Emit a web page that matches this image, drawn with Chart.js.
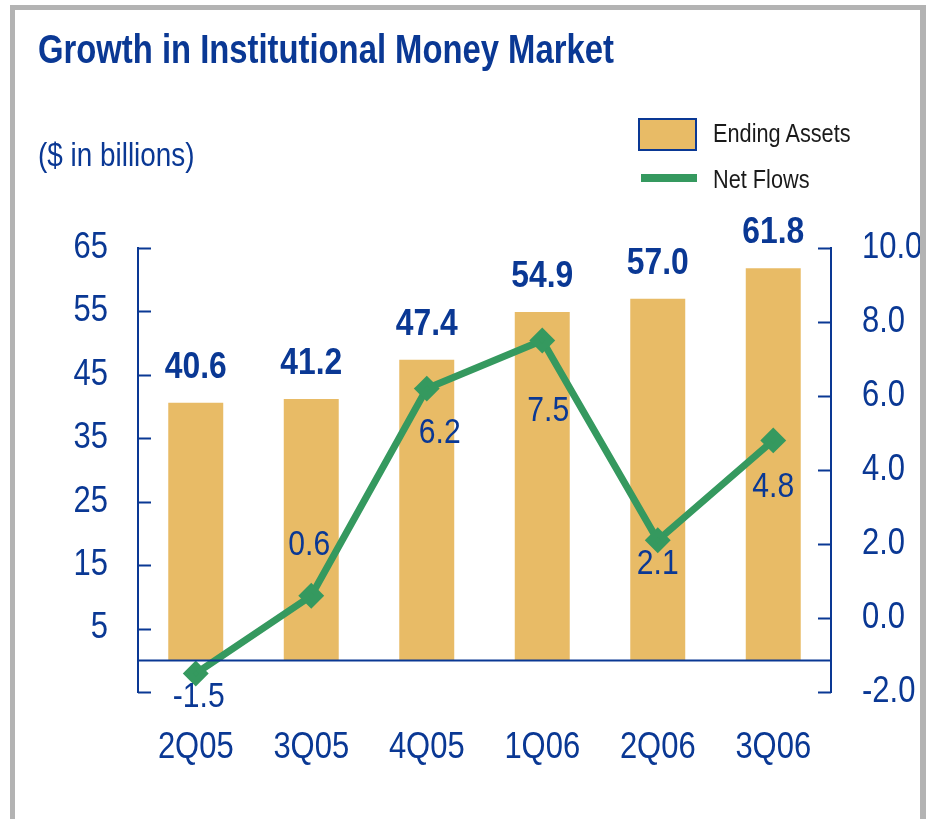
<!DOCTYPE html>
<html>
<head>
<meta charset="utf-8">
<script src="https://cdn.jsdelivr.net/npm/chart.js@4/dist/chart.umd.min.js"></script>
<style>
  html, body { margin: 0; padding: 0; background: #fff; }
  body { width: 930px; height: 819px; position: relative; overflow: hidden;
         font-family: "Liberation Sans", Arial, sans-serif; }
  #chartCanvas { position: absolute; left: 0; top: 0; }
  .frame { position: absolute; background: #b3b3b3; }
  .txt { position: absolute; white-space: nowrap; line-height: 1; transform-origin: 0 0; }
  #title { left: 38px; top: 29px; font-size: 40px; font-weight: bold; color: #0a3894; transform: scaleX(0.82); }
  #subtitle { left: 38px; top: 138px; font-size: 33px; color: #0a3894; transform: scaleX(0.845); }
  .legend-label { font-size: 26px; color: #1a1a1a; transform: scaleX(0.835); }
  #swatchBar { position: absolute; left: 638px; top: 118px; width: 55px; height: 29px;
               background: #e8bb66; border: 2px solid #0a3894; }
  #swatchLine { position: absolute; left: 641px; top: 174px; width: 56px; height: 8px; background: #35995f; }
</style>
</head>
<body>
<canvas id="chartCanvas" width="920" height="819"></canvas>
<div class="frame" style="left:10px; top:5px; width:916px; height:5px;"></div>
<div class="frame" style="left:10px; top:5px; width:5px; height:814px;"></div>
<div class="frame" style="left:920px; top:5px; width:6px; height:814px;"></div>
<div id="title" class="txt">Growth in Institutional Money Market</div>
<div id="subtitle" class="txt">($ in billions)</div>
<div id="swatchBar"></div>
<div class="txt legend-label" style="left:713px; top:120px;">Ending Assets</div>
<div id="swatchLine"></div>
<div class="txt legend-label" style="left:713px; top:166px;">Net Flows</div>
<script>
// Chart data
const quarters = ['2Q05', '3Q05', '4Q05', '1Q06', '2Q06', '3Q06'];
const endingAssets = [40.6, 41.2, 47.4, 54.9, 57.0, 61.8];
const netFlows = [-1.5, 0.6, 6.2, 7.5, 2.1, 4.8];
const assetTicks = [-5, 5, 15, 25, 35, 45, 55, 65];
const flowTicks = [-2, 0, 2, 4, 6, 8, 10];

const BLUE = '#0a3894';
const GOLD = '#e8bb66';
const GREEN = '#35995f';
const FONT = '"Liberation Sans", Arial, sans-serif';
const NARROW = 0.86; // squeeze text to look like a narrow face

// where each net flow label sits relative to its point
const flowLabelShift = [[3, 24], [-2, -50], [13, 45], [6, 71], [0, 24], [0, 47]];

function narrowText(ctx, text, x, y) {
    ctx.save();
    ctx.translate(x, y);
    ctx.scale(NARROW, 1);
    ctx.fillText(text, 0, 0);
    ctx.restore();
}

// inward tick marks, zero line, tick and value labels
const extras = {
    id: 'extras',
    beforeDatasetsDraw(chart) {
        const ctx = chart.ctx;
        const area = chart.chartArea;
        const yL = chart.scales.y, yR = chart.scales.y1;
        ctx.save();
        ctx.strokeStyle = BLUE;
        ctx.lineWidth = 2;
        ctx.beginPath();
        yL.ticks.forEach(t => {
            const py = Math.round(yL.getPixelForValue(t.value)) + 0.5;
            ctx.moveTo(area.left, py); ctx.lineTo(area.left + 13, py);
        });
        yR.ticks.forEach(t => {
            const py = Math.round(yR.getPixelForValue(t.value)) + 0.5;
            ctx.moveTo(area.right, py); ctx.lineTo(area.right - 13, py);
        });
        ctx.stroke();
        ctx.restore();
    },
    afterDatasetsDraw(chart) {
        const ctx = chart.ctx;
        const area = chart.chartArea;
        const xS = chart.scales.x, yL = chart.scales.y, yR = chart.scales.y1;
        ctx.save();
        // zero line over the bar bottoms
        const zy = Math.round(yL.getPixelForValue(0)) + 0.5;
        ctx.strokeStyle = BLUE;
        ctx.lineWidth = 2;
        ctx.beginPath();
        ctx.moveTo(area.left, zy); ctx.lineTo(area.right, zy);
        ctx.stroke();

        ctx.fillStyle = BLUE;

        // axis labels
        ctx.font = '36px ' + FONT;
        ctx.textBaseline = 'middle';
        ctx.textAlign = 'right';
        yL.ticks.forEach(t => {
            if (t.value < 0) return;
            narrowText(ctx, String(t.value), area.left - 30, yL.getPixelForValue(t.value));
        });
        ctx.textAlign = 'left';
        yR.ticks.forEach(t => {
            narrowText(ctx, t.value.toFixed(1), area.right + 31, yR.getPixelForValue(t.value));
        });
        ctx.textAlign = 'center';
        quarters.forEach((q, i) => {
            narrowText(ctx, q, xS.getPixelForValue(i), area.bottom + 56);
        });

        // bar values
        ctx.textBaseline = 'alphabetic';
        ctx.font = 'bold 37px ' + FONT;
        chart.getDatasetMeta(0).data.forEach((bar, i) => {
            narrowText(ctx, endingAssets[i].toFixed(1), bar.x, bar.y - 25);
        });
        // net flow values
        ctx.font = '35px ' + FONT;
        ctx.textBaseline = 'middle';
        chart.getDatasetMeta(1).data.forEach((pt, i) => {
            const s = flowLabelShift[i];
            narrowText(ctx, netFlows[i].toFixed(1), pt.x + s[0], pt.y + s[1]);
        });
        ctx.restore();
    }
};

const ctx = document.getElementById('chartCanvas').getContext('2d');
new Chart(ctx, {
    data: {
        labels: quarters,
        datasets: [{
            type: 'bar',
            label: 'Ending Assets',
            data: endingAssets,
            backgroundColor: GOLD,
            yAxisID: 'y',
            barPercentage: 0.476,
            categoryPercentage: 1,
            order: 2
        }, {
            type: 'line',
            label: 'Net Flows',
            data: netFlows,
            borderColor: GREEN,
            backgroundColor: GREEN,
            borderWidth: 7,
            pointStyle: 'rectRot',
            pointRadius: 8,
            tension: 0,
            yAxisID: 'y1',
            order: 1
        }]
    },
    options: {
        responsive: false,
        animation: false,
        devicePixelRatio: 1,
        layout: { padding: { top: 248, left: 0, right: 0, bottom: 0 } },
        plugins: { legend: { display: false }, tooltip: { enabled: false } },
        scales: {
            x: {
                grid: { display: false, drawTicks: false },
                border: { display: false },
                ticks: { display: false },
                afterFit(scale) { scale.height = 127; }
            },
            y: {
                position: 'left',
                min: -5, max: 65,
                afterBuildTicks(scale) { scale.ticks = assetTicks.map(v => ({ value: v })); },
                grid: { display: false, drawTicks: false },
                border: { display: true, color: BLUE, width: 2 },
                ticks: { display: false },
                afterFit(scale) { scale.width = 138; }
            },
            y1: {
                position: 'right',
                min: -2, max: 10,
                afterBuildTicks(scale) { scale.ticks = flowTicks.map(v => ({ value: v })); },
                grid: { display: false, drawTicks: false },
                border: { display: true, color: BLUE, width: 2 },
                ticks: { display: false },
                afterFit(scale) { scale.width = 89; }
            }
        }
    },
    plugins: [extras]
});
</script>
</body>
</html>
